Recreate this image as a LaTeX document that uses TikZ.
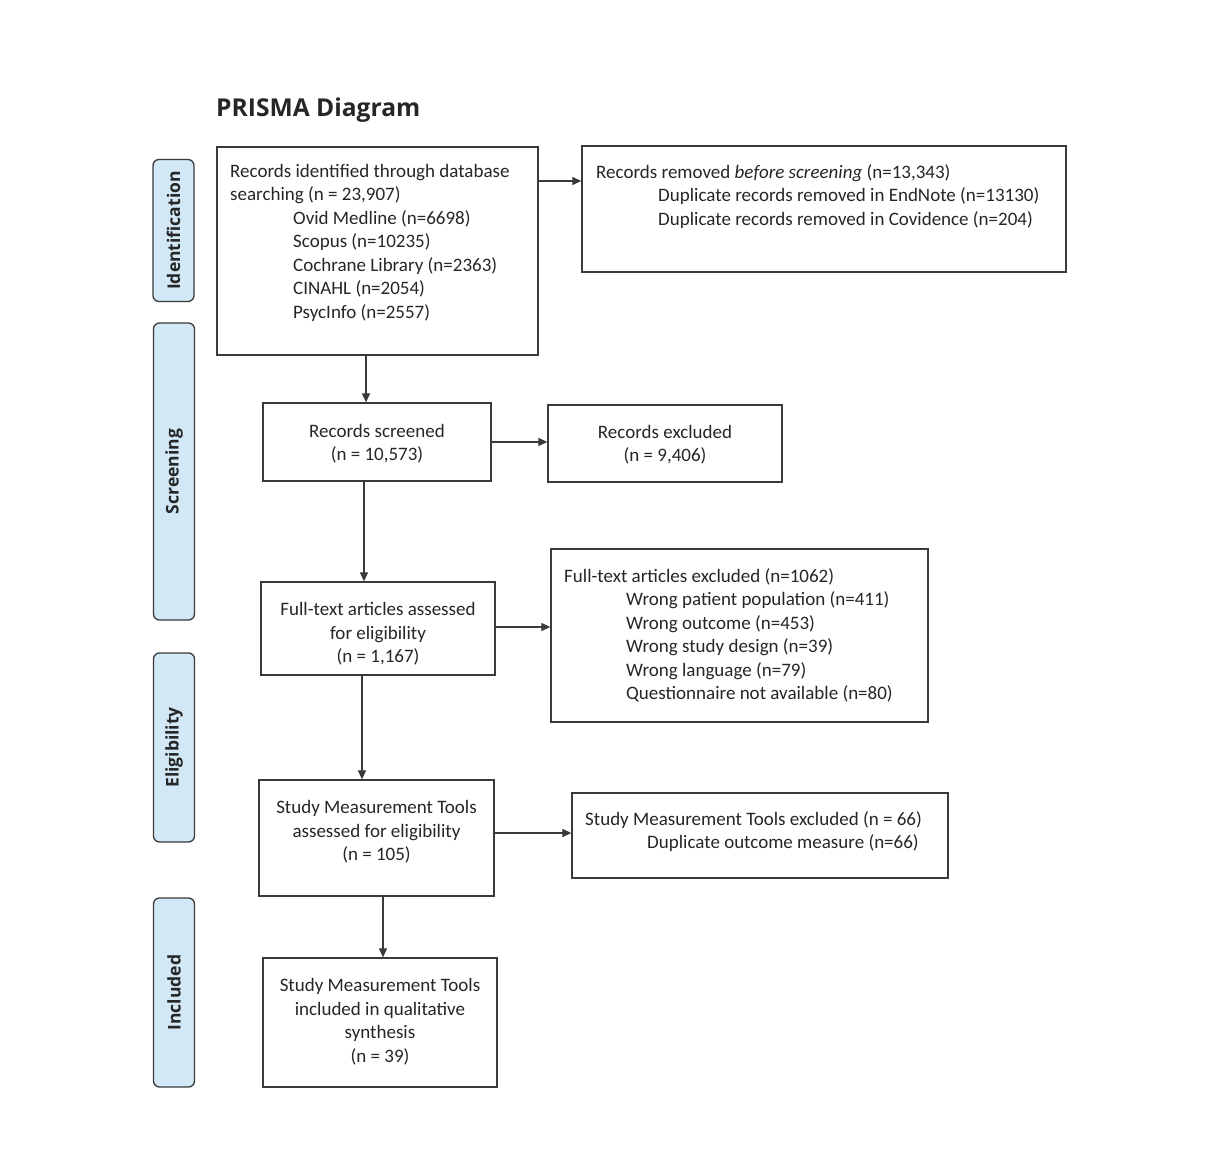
\documentclass[tikz,border=0pt]{standalone}
\usepackage{fontspec}
\setmainfont{Carlito}
\newfontfamily\headfont{Open Sans}
\usetikzlibrary{arrows.meta}
\definecolor{sideblue}{HTML}{D2E8F6}
\definecolor{linegray}{HTML}{3A3A3A}
\tikzset{
  box/.style={draw=linegray, line width=1.3pt, fill=white, inner sep=0pt},
  side/.style={draw=linegray, line width=1.3pt, fill=sideblue, rounded corners=6pt, rotate=90, inner sep=0pt,
    font=\headfont\bfseries\fontsize{17.5}{20}\selectfont, text=black!85},
  txt/.style={inner sep=0pt, font=\fontsize{19}{23.5}\selectfont, text=black!85},
  arr/.style={draw=linegray, line width=1.2pt, -{Triangle[length=9pt,width=8pt]}}
}
\begin{document}
\begin{tikzpicture}[x=1pt,y=-1pt]
\useasboundingbox (0,0) rectangle (1215,1166);
% title
\node[anchor=west, inner sep=0pt, font=\headfont\bfseries\fontsize{24.6}{28}\selectfont, text=black!85] (title) at (216,110) {PRISMA Diagram};
% side labels
\node[side, minimum width=142pt, minimum height=41pt] (sid) at (173.5,230.5) {Identification};
\node[side, minimum width=297pt, minimum height=41pt] (sscr) at (174,471.5) {Screening};
\node[side, minimum width=189pt, minimum height=41pt] (selig) at (174,747.5) {Eligibility};
\node[side, minimum width=189pt, minimum height=41pt] (sinc) at (174,992.5) {Included};
% boxes
\node[box, minimum width=321pt, minimum height=208pt] (b1) at (377.5,251) {};
\node[box, minimum width=484pt, minimum height=126pt] (b2) at (824,209) {};
\node[box, minimum width=228pt, minimum height=78pt] (scr) at (377,442) {};
\node[box, minimum width=234pt, minimum height=77pt] (exc) at (665,443.5) {};
\node[box, minimum width=234pt, minimum height=93pt] (ft) at (378,628.5) {};
\node[box, minimum width=377pt, minimum height=173pt] (ftx) at (739.5,635.5) {};
\node[box, minimum width=235pt, minimum height=116pt] (smt) at (376.5,838) {};
\node[box, minimum width=376pt, minimum height=85pt] (smtx) at (760,835.5) {};
\node[box, minimum width=234pt, minimum height=129pt] (inc) at (380,1022.5) {};
% texts
\node[txt, anchor=north west, align=left] (t1) at (230,164) {Records identified through database\\searching (n = 23,907)\\\hspace*{63pt}Ovid Medline (n=6698)\\\hspace*{63pt}Scopus (n=10235)\\\hspace*{63pt}Cochrane Library (n=2363)\\\hspace*{63pt}CINAHL (n=2054)\\\hspace*{63pt}PsycInfo (n=2557)};
\node[txt, anchor=north west, align=left] (t2) at (596,164) {Records removed \textit{before screening} (n=13,343)\\\hspace*{62pt}Duplicate records removed in EndNote (n=13130)\\\hspace*{62pt}Duplicate records removed in Covidence (n=204)};
\node[txt, align=center] (t3) at (377,443.5) {Records screened\\(n = 10,573)};
\node[txt, align=center] (t4) at (665,444.5) {Records excluded\\(n = 9,406)};
\node[txt, align=center] (t5) at (378,634) {Full-text articles assessed\\for eligibility\\(n = 1,167)};
\node[txt, anchor=north west, align=left] (t6) at (564,568) {Full-text articles excluded (n=1062)\\\hspace*{62pt}Wrong patient population (n=411)\\\hspace*{62pt}Wrong outcome (n=453)\\\hspace*{62pt}Wrong study design (n=39)\\\hspace*{62pt}Wrong language (n=79)\\\hspace*{62pt}Questionnaire not available (n=80)};
\node[txt, align=center] (t7) at (376.5,832) {Study Measurement Tools\\assessed for eligibility\\(n = 105)};
\node[txt, anchor=north west, align=left] (t8) at (585,811) {Study Measurement Tools excluded (n = 66)\\\hspace*{62pt}Duplicate outcome measure (n=66)};
\node[txt, align=center] (t9) at (380,1021.5) {Study Measurement Tools\\included in qualitative\\synthesis\\(n = 39)};
% arrows
\draw[arr] (b1.east |- 0,181) -- (b2.west |- 0,181);
\draw[arr] (b1.south -| 366,0) -- (scr.north -| 366,0);
\draw[arr] (scr.east |- 0,442) -- (exc.west |- 0,442);
\draw[arr] (scr.south -| 364,0) -- (ft.north -| 364,0);
\draw[arr] (ft.east |- 0,627) -- (ftx.west |- 0,627);
\draw[arr] (ft.south -| 362,0) -- (smt.north -| 362,0);
\draw[arr] (smt.east |- 0,833) -- (smtx.west |- 0,833);
\draw[arr] (smt.south -| 383,0) -- (inc.north -| 383,0);
\end{tikzpicture}
\end{document}
